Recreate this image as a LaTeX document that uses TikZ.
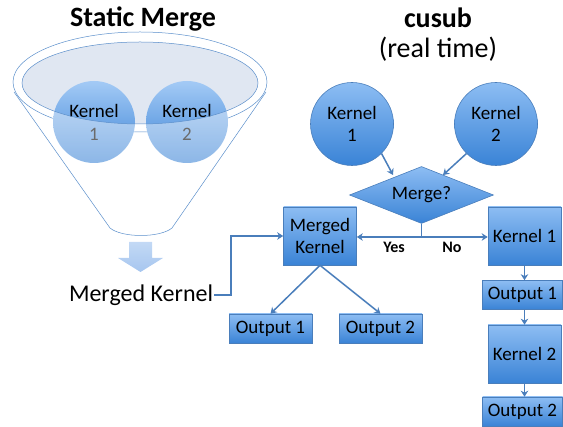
\documentclass[tikz,border=0pt]{standalone}
\usepackage{fontspec}
\setmainfont{Carlito}
\usetikzlibrary{shapes.geometric,arrows.meta,calc}
\definecolor{edgeblue}{HTML}{4A7EBB}
\definecolor{boxtop}{HTML}{8DBDF3}
\definecolor{boxbot}{HTML}{3A83D6}
\definecolor{funnelline}{HTML}{5B8FCB}
\definecolor{ellfill}{HTML}{E0E7F2}
\definecolor{arrowtop}{HTML}{C3D9F5}
\definecolor{arrowbot}{HTML}{A6C6EF}
\tikzset{
  bluebox/.style={draw=edgeblue, line width=0.6pt, top color=boxtop, bottom color=boxbot,
    align=center, inner sep=1pt, font=\fontsize{19}{22}\selectfont},
  bigbox/.style={bluebox, minimum width=73pt, minimum height=58pt},
  outbox/.style={bluebox, minimum width=80pt, minimum height=29pt},
  bluecirc/.style={circle, draw=edgeblue, line width=0.6pt, top color=boxtop, bottom color=boxbot,
    minimum size=83pt, inner sep=0pt, align=center, font=\fontsize{19}{22}\selectfont},
  palecirc/.style={circle, minimum size=82pt, inner sep=0pt,
    top color=boxtop!80!white, bottom color=boxbot, align=center, font=\fontsize{19}{23}\selectfont},
  conn/.style={draw=edgeblue, line width=1.5pt},
  arr/.style={conn, -{Stealth[length=6pt,width=7.5pt]}},
  title/.style={font=\fontsize{28}{32}\selectfont\bfseries},
}
\begin{document}
\begin{tikzpicture}[x=1pt,y=-1pt]
\useasboundingbox (0,0) rectangle (563,427);
% ---------- Static merge ----------
\node[title] (t1) at (143,19) {Static Merge};
% funnel outline
\draw[funnelline, line width=0.5pt] (140,82) ellipse [x radius=127, y radius=50];
\draw[funnelline, line width=0.5pt] (14,92) -- (110,228) .. controls (122,238) and (160,238) .. (172,228) -- (266,92);
\fill[ellfill] (140,83) ellipse [x radius=118, y radius=41];
% kernel circles
\node[palecirc] (c1) at (94,122) {Kernel\\1};
\node[palecirc] (c2) at (187,122) {Kernel\\2};
\begin{scope}
  \clip (94,122) circle [radius=41.5] (187,122) circle [radius=41.5];
  \fill[white, opacity=0.42, even odd rule] (0,0) rectangle (300,250)
    (140,83) ellipse [x radius=118, y radius=41];
\end{scope}
\draw[funnelline, line width=0.5pt] (140,83) ellipse [x radius=118, y radius=41];
% down arrow
\shade[top color=arrowtop, bottom color=arrowbot]
  (129,242) -- (152,242) -- (152,258) -- (163,258) -- (140.5,272) -- (118,258) -- (129,258) -- cycle;
\node[font=\fontsize{24}{28}\selectfont, inner sep=1pt] (mkt) at (141,295) {Merged Kernel};
% ---------- cusub ----------
\node[title] (t2) at (438,18) {cusub};
\node[font=\fontsize{28}{32}\selectfont] (t3) at (438,49) {(real time)};
\node[bluecirc] (k1) at (352,124) {Kernel\\1};
\node[bluecirc] (k2) at (496,124) {Kernel\\2};
\node[diamond, draw=edgeblue, line width=0.6pt, top color=boxtop, bottom color=boxbot,
  minimum width=144pt, minimum height=57pt, aspect=2.5, inner sep=0pt,
  font=\fontsize{19}{22}\selectfont] (mg) at (421.5,195) {Merge?};
\node[bigbox] (mk) at (320,236) {Merged\\Kernel};
\node[bigbox] (kb1) at (524.5,236) {Kernel 1};
\node[outbox] (o1) at (522.5,295) {Output 1};
\node[bigbox] (kb2) at (524.5,354) {Kernel 2};
\node[outbox] (o2) at (522.5,411.5) {Output 2};
\node[outbox, minimum width=83pt] (lo1) at (270.5,328.5) {Output 1};
\node[outbox, minimum width=83pt] (lo2) at (380.5,328.5) {Output 2};
\coordinate (split) at (421.5,237);
\coordinate (m1) at (393,175);
\coordinate (m2) at (443,175);
% connectors
\draw[arr] (k1.-45) -- (m1);
\draw[arr] (k2.-135) -- (m2);
\draw[conn] (mg.south) -- (split);
\draw[arr] (split) -- (mk.east |- split);
\draw[arr] (split) -- (kb1.west |- split);
\node[font=\fontsize{16}{18}\selectfont\bfseries] (yes) at (394,247) {Yes};
\node[font=\fontsize{16}{18}\selectfont\bfseries] (no) at (452,247) {No};
\draw[arr] (mk.south) -- (lo1.north);
\draw[arr] (mk.south) -- (lo2.north);
\draw[arr] (kb1.south) -- (kb1.south |- o1.north);
\draw[arr] (kb1.south |- o1.south) -- (kb2.north);
\draw[arr] (kb2.south) -- (kb2.south |- o2.north);
\draw[arr] (mkt.east) -- ++(17,0) |- (mk.west);
\end{tikzpicture}
\end{document}
